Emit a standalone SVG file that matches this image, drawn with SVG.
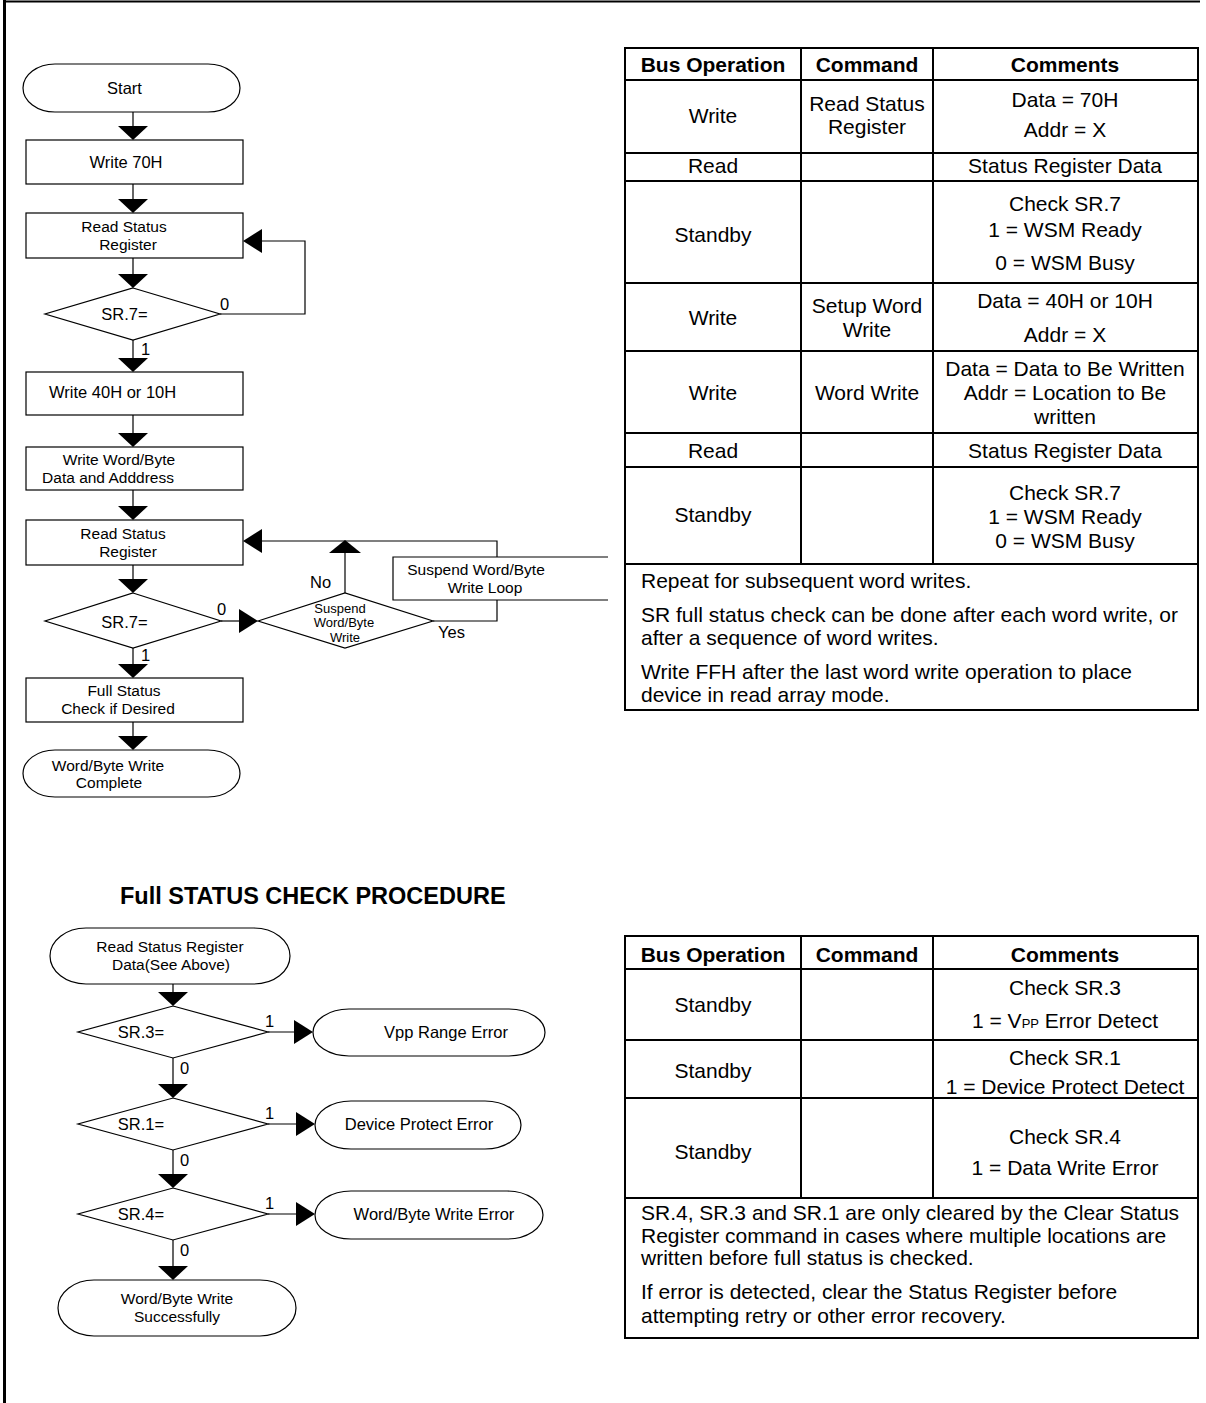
<svg xmlns="http://www.w3.org/2000/svg" xmlns:xlink="http://www.w3.org/1999/xlink" width="1206" height="1403" viewBox="0 0 1206 1403">
  <style>
    text { font-family: "Liberation Sans", Arial, sans-serif; fill: #000; }
    .f { font-size: 16.5px; }
    .fm { font-size: 16.5px; text-anchor: middle; }
    .f2 { font-size: 15.5px; text-anchor: middle; }
    .sm { font-size: 13px; text-anchor: middle; }
    .t { font-size: 21px; text-anchor: middle; }
    .tl { font-size: 21px; }
    .th { font-size: 21px; font-weight: bold; text-anchor: middle; }
    .title { font-size: 23.5px; font-weight: bold; }
    .shape { fill: #fff; stroke: #000; stroke-width: 1.2; }
    .ln { fill: none; stroke: #000; stroke-width: 1.2; }
    .grid { fill: none; stroke: #000; stroke-width: 2; }
    .frame { fill: none; stroke: #000; }
  </style>
  <defs>
    <!-- arrowheads, apex at the origin -->
    <path id="ad" d="M-15,-14 L15,-14 L0,0 Z" fill="#000"/>
    <path id="au" d="M-16,13 L16,13 L0,0 Z" fill="#000"/>
    <path id="al" d="M0,0 L19,-12 L19,12 Z" fill="#000"/>
    <path id="ar" d="M0,0 L-19,-12 L-19,12 Z" fill="#000"/>
  </defs>

  <rect width="1206" height="1403" fill="#fff"/>

  <!-- page frame -->
  <g id="frame">
    <line class="frame" x1="3" y1="1.5" x2="1200" y2="1.5" stroke-width="2"/>
    <line class="frame" x1="4.5" y1="0" x2="4.5" y2="1403" stroke-width="3"/>
  </g>

  <!-- ===== Word/Byte write flow ===== -->
  <g id="start">
    <rect class="shape" x="23" y="64" width="217" height="48" rx="32" ry="24"/>
    <text class="fm" x="124.5" y="94">Start</text>
  </g>
  <g id="write70">
    <rect class="shape" x="26" y="140" width="217" height="44"/>
    <text class="fm" x="126" y="168">Write 70H</text>
  </g>
  <g id="readsr1">
    <rect class="shape" x="26" y="213" width="217" height="45"/>
    <text class="f2" x="124" y="232">Read Status</text>
    <text class="f2" x="128" y="249.5">Register</text>
  </g>
  <g id="sr7a">
    <polygon class="shape" points="133,288 220,314 133,340 45,314"/>
    <text class="fm" x="124.5" y="320">SR.7=</text>
  </g>
  <g id="write40">
    <rect class="shape" x="26" y="372" width="217" height="43"/>
    <text class="f" x="49" y="398">Write 40H or 10H</text>
  </g>
  <g id="writedata">
    <rect class="shape" x="26" y="447" width="217" height="43"/>
    <text class="f2" x="119" y="465">Write Word/Byte</text>
    <text class="f2" x="108" y="482.5">Data and Adddress</text>
  </g>
  <g id="readsr2">
    <rect class="shape" x="26" y="520" width="217" height="45"/>
    <text class="f2" x="123" y="539">Read Status</text>
    <text class="f2" x="128" y="556.5">Register</text>
  </g>
  <g id="sr7b">
    <polygon class="shape" points="133,593 221,621 133,648 45,621"/>
    <text class="fm" x="124.5" y="628">SR.7=</text>
  </g>
  <g id="suspend">
    <polygon class="shape" points="258,621 345,593 433,621 345,648"/>
    <text class="sm" x="340" y="612.5">Suspend</text>
    <text class="sm" x="344" y="627">Word/Byte</text>
    <text class="sm" x="345" y="641.5">Write</text>
  </g>
  <g id="suspendloop">
    <path class="shape" d="M608,557 H393 V600 H608"/>
    <text class="f2" x="476" y="575">Suspend Word/Byte</text>
    <text class="f2" x="485" y="592.5">Write Loop</text>
  </g>
  <g id="fullcheck">
    <rect class="shape" x="26" y="678" width="217" height="44"/>
    <text class="f2" x="124" y="696">Full Status</text>
    <text class="f2" x="118" y="713.5">Check if Desired</text>
  </g>
  <g id="complete">
    <rect class="shape" x="23" y="750" width="217" height="47" rx="32" ry="23.5"/>
    <text class="f2" x="108" y="770.5">Word/Byte Write</text>
    <text class="f2" x="109" y="788">Complete</text>
  </g>

  <!-- ===== Full status check flow ===== -->
  <text class="title" x="120" y="904">Full STATUS CHECK PROCEDURE</text>

  <g id="readsrdata">
    <rect class="shape" x="50" y="928" width="240" height="56" rx="36" ry="28"/>
    <text class="f2" x="170" y="952">Read Status Register</text>
    <text class="f2" x="171" y="969.5">Data(See Above)</text>
  </g>
  <g id="sr3">
    <polygon class="shape" points="173,1006 268,1032 173,1058 78,1032"/>
    <text class="fm" x="141" y="1038">SR.3=</text>
  </g>
  <g id="vpperr">
    <rect class="shape" x="313" y="1009" width="232" height="47" rx="36" ry="23.5"/>
    <text class="fm" x="446" y="1038">Vpp Range Error</text>
  </g>
  <g id="sr1">
    <polygon class="shape" points="173,1098 268,1124 173,1150 78,1124"/>
    <text class="fm" x="141" y="1130">SR.1=</text>
  </g>
  <g id="protecterr">
    <rect class="shape" x="315" y="1101" width="206" height="48" rx="36" ry="24"/>
    <text class="fm" x="419" y="1130">Device Protect Error</text>
  </g>
  <g id="sr4">
    <polygon class="shape" points="173,1188 268,1214 173,1240 78,1214"/>
    <text class="fm" x="141" y="1220">SR.4=</text>
  </g>
  <g id="writeerr">
    <rect class="shape" x="315" y="1191" width="228" height="48" rx="36" ry="24"/>
    <text class="fm" x="434" y="1220">Word/Byte Write Error</text>
  </g>
  <g id="success">
    <rect class="shape" x="58" y="1280" width="238" height="56" rx="36" ry="28"/>
    <text class="f2" x="177" y="1304">Word/Byte Write</text>
    <text class="f2" x="177" y="1321.5">Successfully</text>
  </g>

  <!-- connectors -->
  <g id="connectors">
    <path class="ln" d="M133,112 V127 M133,184 V199 M133,258 V275 M133,340 V359 M133,415 V434 M133,490 V507 M133,565 V580 M133,648 V665 M133,722 V737"/>
    <use xlink:href="#ad" x="133" y="140"/>
    <use xlink:href="#ad" x="133" y="213"/>
    <use xlink:href="#ad" x="133" y="288"/>
    <use xlink:href="#ad" x="133" y="372"/>
    <use xlink:href="#ad" x="133" y="447"/>
    <use xlink:href="#ad" x="133" y="520"/>
    <use xlink:href="#ad" x="133" y="593"/>
    <use xlink:href="#ad" x="133" y="678"/>
    <use xlink:href="#ad" x="133" y="750"/>

    <!-- busy loop -->
    <path class="ln" d="M220,314 H305 V241 H260"/>
    <use xlink:href="#al" x="243" y="241"/>

    <!-- into suspend decision -->
    <path class="ln" d="M221,621 H241"/>
    <use xlink:href="#ar" x="258" y="621"/>

    <!-- suspend: No -->
    <path class="ln" d="M345,593 V552"/>
    <use xlink:href="#au" x="345" y="540"/>
    <path class="ln" d="M260,541 H497 V557"/>
    <use xlink:href="#al" x="243" y="541"/>

    <!-- suspend: Yes -->
    <path class="ln" d="M497,600 V621 H433"/>

    <!-- full status check -->
    <path class="ln" d="M173,984 V994 M173,1058 V1086 M173,1150 V1176 M173,1240 V1268"/>
    <use xlink:href="#ad" x="173" y="1006"/>
    <use xlink:href="#ad" x="173" y="1098"/>
    <use xlink:href="#ad" x="173" y="1188"/>
    <use xlink:href="#ad" x="173" y="1280"/>
    <path class="ln" d="M268,1032 H296 M268,1124 H298 M268,1214 H298"/>
    <use xlink:href="#ar" x="313" y="1032"/>
    <use xlink:href="#ar" x="315" y="1124"/>
    <use xlink:href="#ar" x="315" y="1214"/>

    <!-- branch labels -->
    <text class="f" x="220" y="310">0</text>
    <text class="f" x="141" y="355">1</text>
    <text class="f" x="217" y="615">0</text>
    <text class="f" x="141" y="661">1</text>
    <text class="f" x="310" y="588">No</text>
    <text class="f" x="438" y="638">Yes</text>
    <text class="f" x="265" y="1027">1</text>
    <text class="f" x="180" y="1074">0</text>
    <text class="f" x="265" y="1119">1</text>
    <text class="f" x="180" y="1166">0</text>
    <text class="f" x="265" y="1209">1</text>
    <text class="f" x="180" y="1256">0</text>
  </g>

  <!-- ===== Write bus-operation table ===== -->
  <g id="table-write">
    <rect class="grid" x="625" y="48" width="573" height="662"/>
    <path class="grid" d="M625,80 H1198 M625,153 H1198 M625,181 H1198 M625,283 H1198 M625,351 H1198 M625,433 H1198 M625,467 H1198 M625,564 H1198"/>
    <path class="grid" d="M801,48 V564 M933,48 V564"/>

    <text class="th" x="713" y="72">Bus Operation</text>
    <text class="th" x="867" y="72">Command</text>
    <text class="th" x="1065" y="72">Comments</text>

    <text class="t" x="713" y="123">Write</text>
    <text class="t" x="867" y="111">Read Status</text>
    <text class="t" x="867" y="134">Register</text>
    <text class="t" x="1065" y="107">Data = 70H</text>
    <text class="t" x="1065" y="137">Addr = X</text>

    <text class="t" x="713" y="173">Read</text>
    <text class="t" x="1065" y="173">Status Register Data</text>

    <text class="t" x="713" y="242">Standby</text>
    <text class="t" x="1065" y="211">Check SR.7</text>
    <text class="t" x="1065" y="237">1 = WSM Ready</text>
    <text class="t" x="1065" y="270">0 = WSM Busy</text>

    <text class="t" x="713" y="325">Write</text>
    <text class="t" x="867" y="313">Setup Word</text>
    <text class="t" x="867" y="337">Write</text>
    <text class="t" x="1065" y="308">Data = 40H or 10H</text>
    <text class="t" x="1065" y="342">Addr = X</text>

    <text class="t" x="713" y="400">Write</text>
    <text class="t" x="867" y="400">Word Write</text>
    <text class="t" x="1065" y="376">Data = Data to Be Written</text>
    <text class="t" x="1065" y="400">Addr = Location to Be</text>
    <text class="t" x="1065" y="424">written</text>

    <text class="t" x="713" y="458">Read</text>
    <text class="t" x="1065" y="458">Status Register Data</text>

    <text class="t" x="713" y="522">Standby</text>
    <text class="t" x="1065" y="500">Check SR.7</text>
    <text class="t" x="1065" y="524">1 = WSM Ready</text>
    <text class="t" x="1065" y="548">0 = WSM Busy</text>

    <text class="tl" x="641" y="588">Repeat for subsequent word writes.</text>
    <text class="tl" x="641" y="622">SR full status check can be done after each word write, or</text>
    <text class="tl" x="641" y="645">after a sequence of word writes.</text>
    <text class="tl" x="641" y="679">Write FFH after the last word write operation to place</text>
    <text class="tl" x="641" y="702">device in read array mode.</text>
  </g>

  <!-- ===== Full status check table ===== -->
  <g id="table-status">
    <rect class="grid" x="625" y="936" width="573" height="402"/>
    <path class="grid" d="M625,969 H1198 M625,1040 H1198 M625,1098 H1198 M625,1198 H1198"/>
    <path class="grid" d="M801,936 V1198 M933,936 V1198"/>

    <text class="th" x="713" y="962">Bus Operation</text>
    <text class="th" x="867" y="962">Command</text>
    <text class="th" x="1065" y="962">Comments</text>

    <text class="t" x="713" y="1012">Standby</text>
    <text class="t" x="1065" y="995">Check SR.3</text>
    <text class="t" x="1065" y="1028">1 = V<tspan font-size="13px">PP</tspan> Error Detect</text>

    <text class="t" x="713" y="1078">Standby</text>
    <text class="t" x="1065" y="1065">Check SR.1</text>
    <text class="t" x="1065" y="1094">1 = Device Protect Detect</text>

    <text class="t" x="713" y="1159">Standby</text>
    <text class="t" x="1065" y="1144">Check SR.4</text>
    <text class="t" x="1065" y="1175">1 = Data Write Error</text>

    <text class="tl" x="641" y="1220">SR.4, SR.3 and SR.1 are only cleared by the Clear Status</text>
    <text class="tl" x="641" y="1243">Register command in cases where multiple locations are</text>
    <text class="tl" x="641" y="1265">written before full status is checked.</text>
    <text class="tl" x="641" y="1299">If error is detected, clear the Status Register before</text>
    <text class="tl" x="641" y="1323">attempting retry or other error recovery.</text>
  </g>
</svg>
